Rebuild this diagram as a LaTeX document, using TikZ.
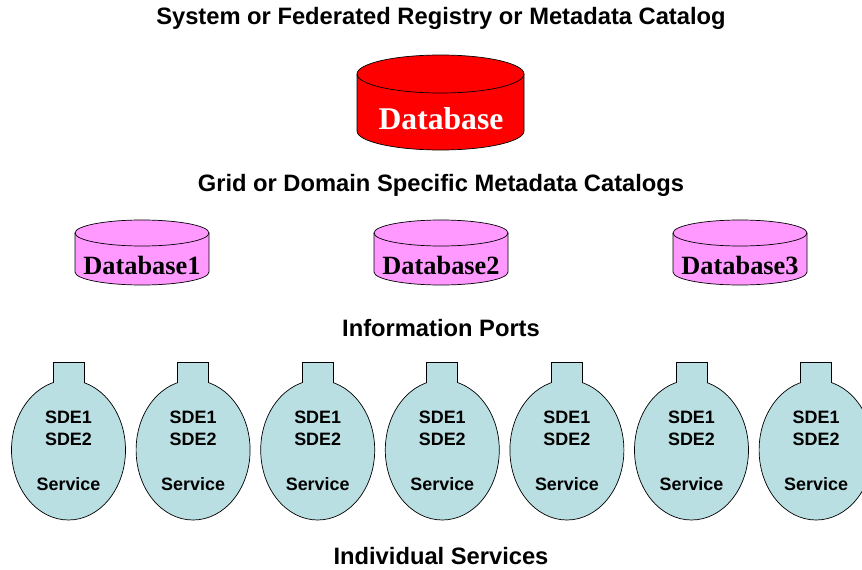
\documentclass[tikz,border=0pt]{standalone}
\usepackage{fontspec}
\setmainfont{Liberation Sans}
\newfontfamily\dbfont{Liberation Serif}

\definecolor{dbred}{RGB}{255,0,0}
\definecolor{dbpink}{RGB}{255,153,255}
\definecolor{svcblue}{RGB}{186,223,226}

\tikzset{
	title/.style={font=\fontsize{13.5}{16}\selectfont\bfseries},
	dblabel/.style={font=\dbfont\fontsize{15}{18}\selectfont\bfseries},
	svclabel/.style={font=\fontsize{10.2}{12.5}\selectfont\bfseries, align=center},
}

\begin{document}
\begin{tikzpicture}[x=0.02cm, y=0.02cm]

	\useasboundingbox (0, 0) rectangle (862, 569);

	\def\rxmain{83.5}
	\def\rymain{19}
	\def\hmain{57}

	\def\rxdb{67}
	\def\rydb{13}
	\def\hdb{39}

	\def\rxsvc{57}
	\def\rysvc{70}
	\def\tabw{15.5}
	\def\nsvc{6}

	\node[title] (toptitle) at (441, 551) {System or Federated Registry or Metadata Catalog};
	\node[title] (gridtitle) at (441, 384) {Grid or Domain Specific Metadata Catalogs};
	\node[title] (porttitle) at (441, 241) {Information Ports};
	\node[title] (svctitle) at (441, 13) {Individual Services};

	\filldraw[fill=dbred, draw=black, thin] (440.5-\rxmain, 495) -- (440.5-\rxmain, 495-\hmain) arc[start angle=180, end angle=360, x radius=\rxmain, y radius=\rymain] -- (440.5+\rxmain, 495) arc[start angle=0, end angle=180, x radius=\rxmain, y radius=\rymain] -- cycle;
	\draw[thin] (440.5-\rxmain, 495) arc[start angle=180, end angle=360, x radius=\rxmain, y radius=\rymain];
	\node[font=\dbfont\fontsize{18}{21}\selectfont\bfseries, text=white] (maindb) at (441, 450) {Database};

	\foreach \cx/\lbl in {142/1, 441/2, 740/3} {
		\filldraw[fill=dbpink, draw=black, thin] (\cx-\rxdb, 336) -- (\cx-\rxdb, 336-\hdb) arc[start angle=180, end angle=360, x radius=\rxdb, y radius=\rydb] -- (\cx+\rxdb, 336) arc[start angle=0, end angle=180, x radius=\rxdb, y radius=\rydb] -- cycle;
		\draw[thin] (\cx-\rxdb, 336) arc[start angle=180, end angle=360, x radius=\rxdb, y radius=\rydb];
		\node[dblabel] (db\lbl) at (\cx, 304) {Database\lbl};
	}

	\foreach \i in {0, ..., \nsvc} {
		\pgfmathsetmacro{\cx}{68.5+\i*124.6}
		\filldraw[fill=svcblue, draw=black, thin] (\cx, 119) ellipse [x radius=\rxsvc, y radius=\rysvc];
		\fill[svcblue] (\cx-\tabw, 182) rectangle (\cx+\tabw, 207);
		\draw[thin] (\cx-\tabw, 186.3) -- (\cx-\tabw, 207) -- (\cx+\tabw, 207) -- (\cx+\tabw, 186.3);
		\node[svclabel] (sde\i) at (\cx, 141) {SDE1\\SDE2};
		\node[svclabel] (svc\i) at (\cx, 85) {Service};
	}

\end{tikzpicture}
\end{document}
